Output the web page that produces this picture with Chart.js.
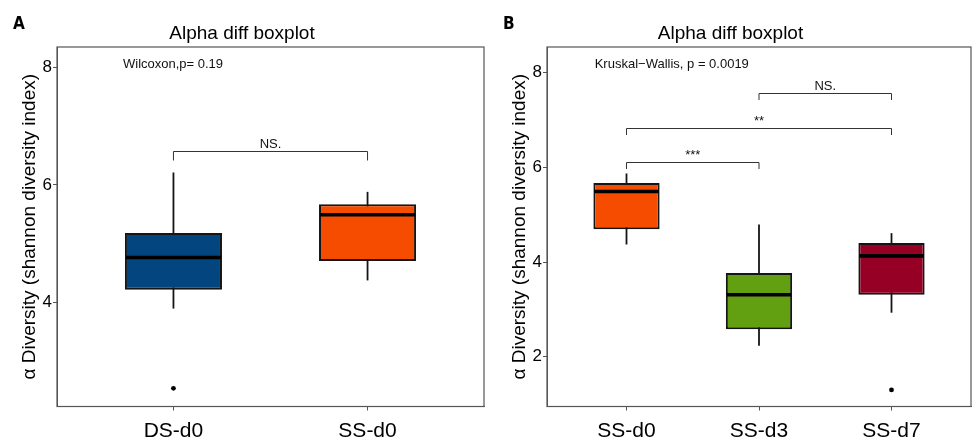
<!DOCTYPE html>
<html>
<head>
<meta charset="utf-8">
<script src="https://cdn.jsdelivr.net/npm/chart.js@4.4.0/dist/chart.umd.min.js"></script>
<style>
  body { margin: 0; background: #fff; }
  #wrap { position: relative; width: 972px; height: 440px; overflow: hidden; }
  .panel { position: absolute; top: 0; }
  .tag { position: absolute; top: 13px; font: bold 17px "Liberation Sans Narrow", "DejaVu Sans Condensed", sans-serif; color: #000; }
</style>
</head>
<body>
<div id="wrap">
  <canvas id="chartA" class="panel" style="left:0" width="490" height="440"></canvas>
  <canvas id="chartB" class="panel" style="left:490px" width="482" height="440"></canvas>
  <div class="tag" style="left:13px">A</div>
  <div class="tag" style="left:503px">B</div>
</div>
<script>
// panel A
const groupsA = ['DS-d0', 'SS-d0'];
const minA = [3.89, 4.37];
const q1A = [4.21, 4.70];
const medA = [4.76, 5.49];
const q3A = [5.18, 5.67];
const maxA = [6.21, 5.88];
const outGroupA = ['DS-d0'];
const outValA = [2.53];
const yTicksA = [4, 6, 8];
const statTextA = 'Wilcoxon,p= 0.19';
const pairFromA = ['DS-d0'];
const pairToA = ['SS-d0'];
const pairYA = [6.58];
const pairLabelA = ['NS.'];

// panel B
const groupsB = ['SS-d0', 'SS-d3', 'SS-d7'];
const minB = [4.37, 2.23, 2.93];
const q1B = [4.69, 2.58, 3.31];
const medB = [5.49, 3.31, 4.13];
const q3B = [5.67, 3.77, 4.40];
const maxB = [5.87, 4.79, 4.61];
const outGroupB = ['SS-d7'];
const outValB = [1.30];
const yTicksB = [2, 4, 6, 8];
const statTextB = 'Kruskal\u2212Wallis, p = 0.0019';
const pairFromB = ['SS-d0', 'SS-d0', 'SS-d3'];
const pairToB = ['SS-d3', 'SS-d7', 'SS-d7'];
const pairYB = [6.11, 6.84, 7.56];
const pairLabelB = ['***', '**', 'NS.'];

const FONT = '"Liberation Sans", Arial, Helvetica, sans-serif';
const INK = '#151515';
const AXIS = '#555';

function boxPlot(id, p) {
  const xs = p.groups.map((g, i) => i + 1);

  const extras = {
    id: 'boxExtras',
    beforeDatasetsDraw(chart) {
      const {ctx, scales: {x, y}} = chart;
      ctx.save();
      ctx.strokeStyle = INK;
      ctx.lineWidth = 1.8;
      xs.forEach((v, i) => {
        const px = x.getPixelForValue(v);
        ctx.beginPath();
        ctx.moveTo(px, y.getPixelForValue(p.min[i]));
        ctx.lineTo(px, y.getPixelForValue(p.max[i]));
        ctx.stroke();
      });
      ctx.restore();
    },
    afterDatasetsDraw(chart) {
      const {ctx, scales: {y}} = chart;
      const bars = chart.getDatasetMeta(0).data;
      ctx.save();
      ctx.strokeStyle = '#000';
      ctx.lineWidth = 3.6;
      bars.forEach((el, i) => {
        const py = y.getPixelForValue(p.med[i]);
        ctx.beginPath();
        ctx.moveTo(el.x - el.width / 2 + 1, py);
        ctx.lineTo(el.x + el.width / 2 - 1, py);
        ctx.stroke();
      });
      ctx.restore();
    },
    afterDraw(chart) {
      const {ctx, chartArea: a, scales: {x, y}} = chart;
      ctx.save();
      // panel border
      ctx.strokeStyle = AXIS;
      ctx.lineWidth = 1.2;
      ctx.strokeRect(a.left, a.top, a.right - a.left, a.bottom - a.top);
      // significance brackets
      ctx.strokeStyle = '#333';
      ctx.lineWidth = 1;
      ctx.fillStyle = '#111';
      ctx.font = '13px ' + FONT;
      ctx.textAlign = 'center';
      ctx.textBaseline = 'bottom';
      p.pairY.forEach((v, i) => {
        const x1 = x.getPixelForValue(p.groups.indexOf(p.pairFrom[i]) + 1);
        const x2 = x.getPixelForValue(p.groups.indexOf(p.pairTo[i]) + 1);
        const py = Math.round(y.getPixelForValue(v)) + 0.5;
        ctx.beginPath();
        ctx.moveTo(x1, py + p.tip);
        ctx.lineTo(x1, py);
        ctx.lineTo(x2, py);
        ctx.lineTo(x2, py + p.tip);
        ctx.stroke();
        ctx.fillText(p.pairLabel[i], (x1 + x2) / 2, py - 1);
      });
      // global test label
      ctx.textAlign = 'left';
      ctx.textBaseline = 'middle';
      ctx.fillText(p.stat, x.getPixelForValue(p.statX), y.getPixelForValue(p.statY));
      ctx.restore();
    }
  };

  const grid = {display: true, drawOnChartArea: false, offset: false, tickLength: 4, color: AXIS, lineWidth: 1};

  return new Chart(document.getElementById(id), {
    type: 'bar',
    data: {
      datasets: [
        {
          type: 'bar',
          data: xs.map((v, i) => ({x: v, y: [p.q1[i], p.q3[i]]})),
          backgroundColor: p.colors,
          borderColor: INK,
          borderWidth: 2,
          borderSkipped: false,
          categoryPercentage: 1,
          barPercentage: 0.5
        },
        {
          type: 'scatter',
          data: p.outGroup.map((g, i) => ({x: p.groups.indexOf(g) + 1, y: p.outVal[i]})),
          pointRadius: 2.4,
          backgroundColor: '#000',
          borderWidth: 0
        }
      ]
    },
    options: {
      responsive: false,
      animation: false,
      events: [],
      layout: {autoPadding: false, padding: {left: 0, right: p.padRight, top: 0, bottom: 0}},
      plugins: {
        legend: {display: false},
        tooltip: {enabled: false},
        title: {
          display: true,
          text: 'Alpha diff boxplot',
          color: '#000',
          font: {family: FONT, size: 19, weight: 'normal'},
          padding: {top: 22, bottom: 2.2}
        }
      },
      scales: {
        x: {
          type: 'linear',
          min: 0.4,
          max: p.groups.length + 0.6,
          offset: false,
          afterBuildTicks: s => { s.ticks = xs.map(v => ({value: v})); },
          afterFit: s => { s.height = 33.5; s.paddingLeft = 0; s.paddingRight = 0; },
          ticks: {
            callback: v => p.groups[v - 1],
            color: '#000',
            font: {family: FONT, size: 21},
            padding: 8,
            maxRotation: 0,
            autoSkip: false
          },
          grid: grid,
          border: {display: true, color: AXIS}
        },
        y: {
          min: p.yMin,
          max: p.yMax,
          afterBuildTicks: s => { s.ticks = p.yTicks.map(v => ({value: v})); },
          afterFit: s => { s.width = 57; s.paddingTop = 0; s.paddingBottom = 0; },
          ticks: {color: '#000', font: {family: FONT, size: 17}, padding: 1},
          grid: grid,
          border: {display: true, color: AXIS},
          title: {
            display: true,
            text: '\u03b1 Diversity (shannon diversity index)',
            color: '#000',
            font: {family: FONT, size: 19},
            padding: {top: 18, bottom: 0}
          }
        }
      }
    },
    plugins: [extras]
  });
}

boxPlot('chartA', {
  groups: groupsA, min: minA, q1: q1A, med: medA, q3: q3A, max: maxA,
  outGroup: outGroupA, outVal: outValA, yTicks: yTicksA, yMin: 2.22, yMax: 8.35,
  colors: ['#03467F', '#F54C00'],
  pairFrom: pairFromA, pairTo: pairToA, pairY: pairYA, pairLabel: pairLabelA, tip: 9,
  stat: statTextA, statX: 0.74, statY: 8.06, padRight: 6
});

boxPlot('chartB', {
  groups: groupsB, min: minB, q1: q1B, med: medB, q3: q3B, max: maxB,
  outGroup: outGroupB, outVal: outValB, yTicks: yTicksB, yMin: 0.95, yMax: 8.54,
  colors: ['#F54C00', '#62A012', '#970025'],
  pairFrom: pairFromB, pairTo: pairToB, pairY: pairYB, pairLabel: pairLabelB, tip: 6.5,
  stat: statTextB, statX: 0.76, statY: 8.18, padRight: 1
});
</script>
</body>
</html>
